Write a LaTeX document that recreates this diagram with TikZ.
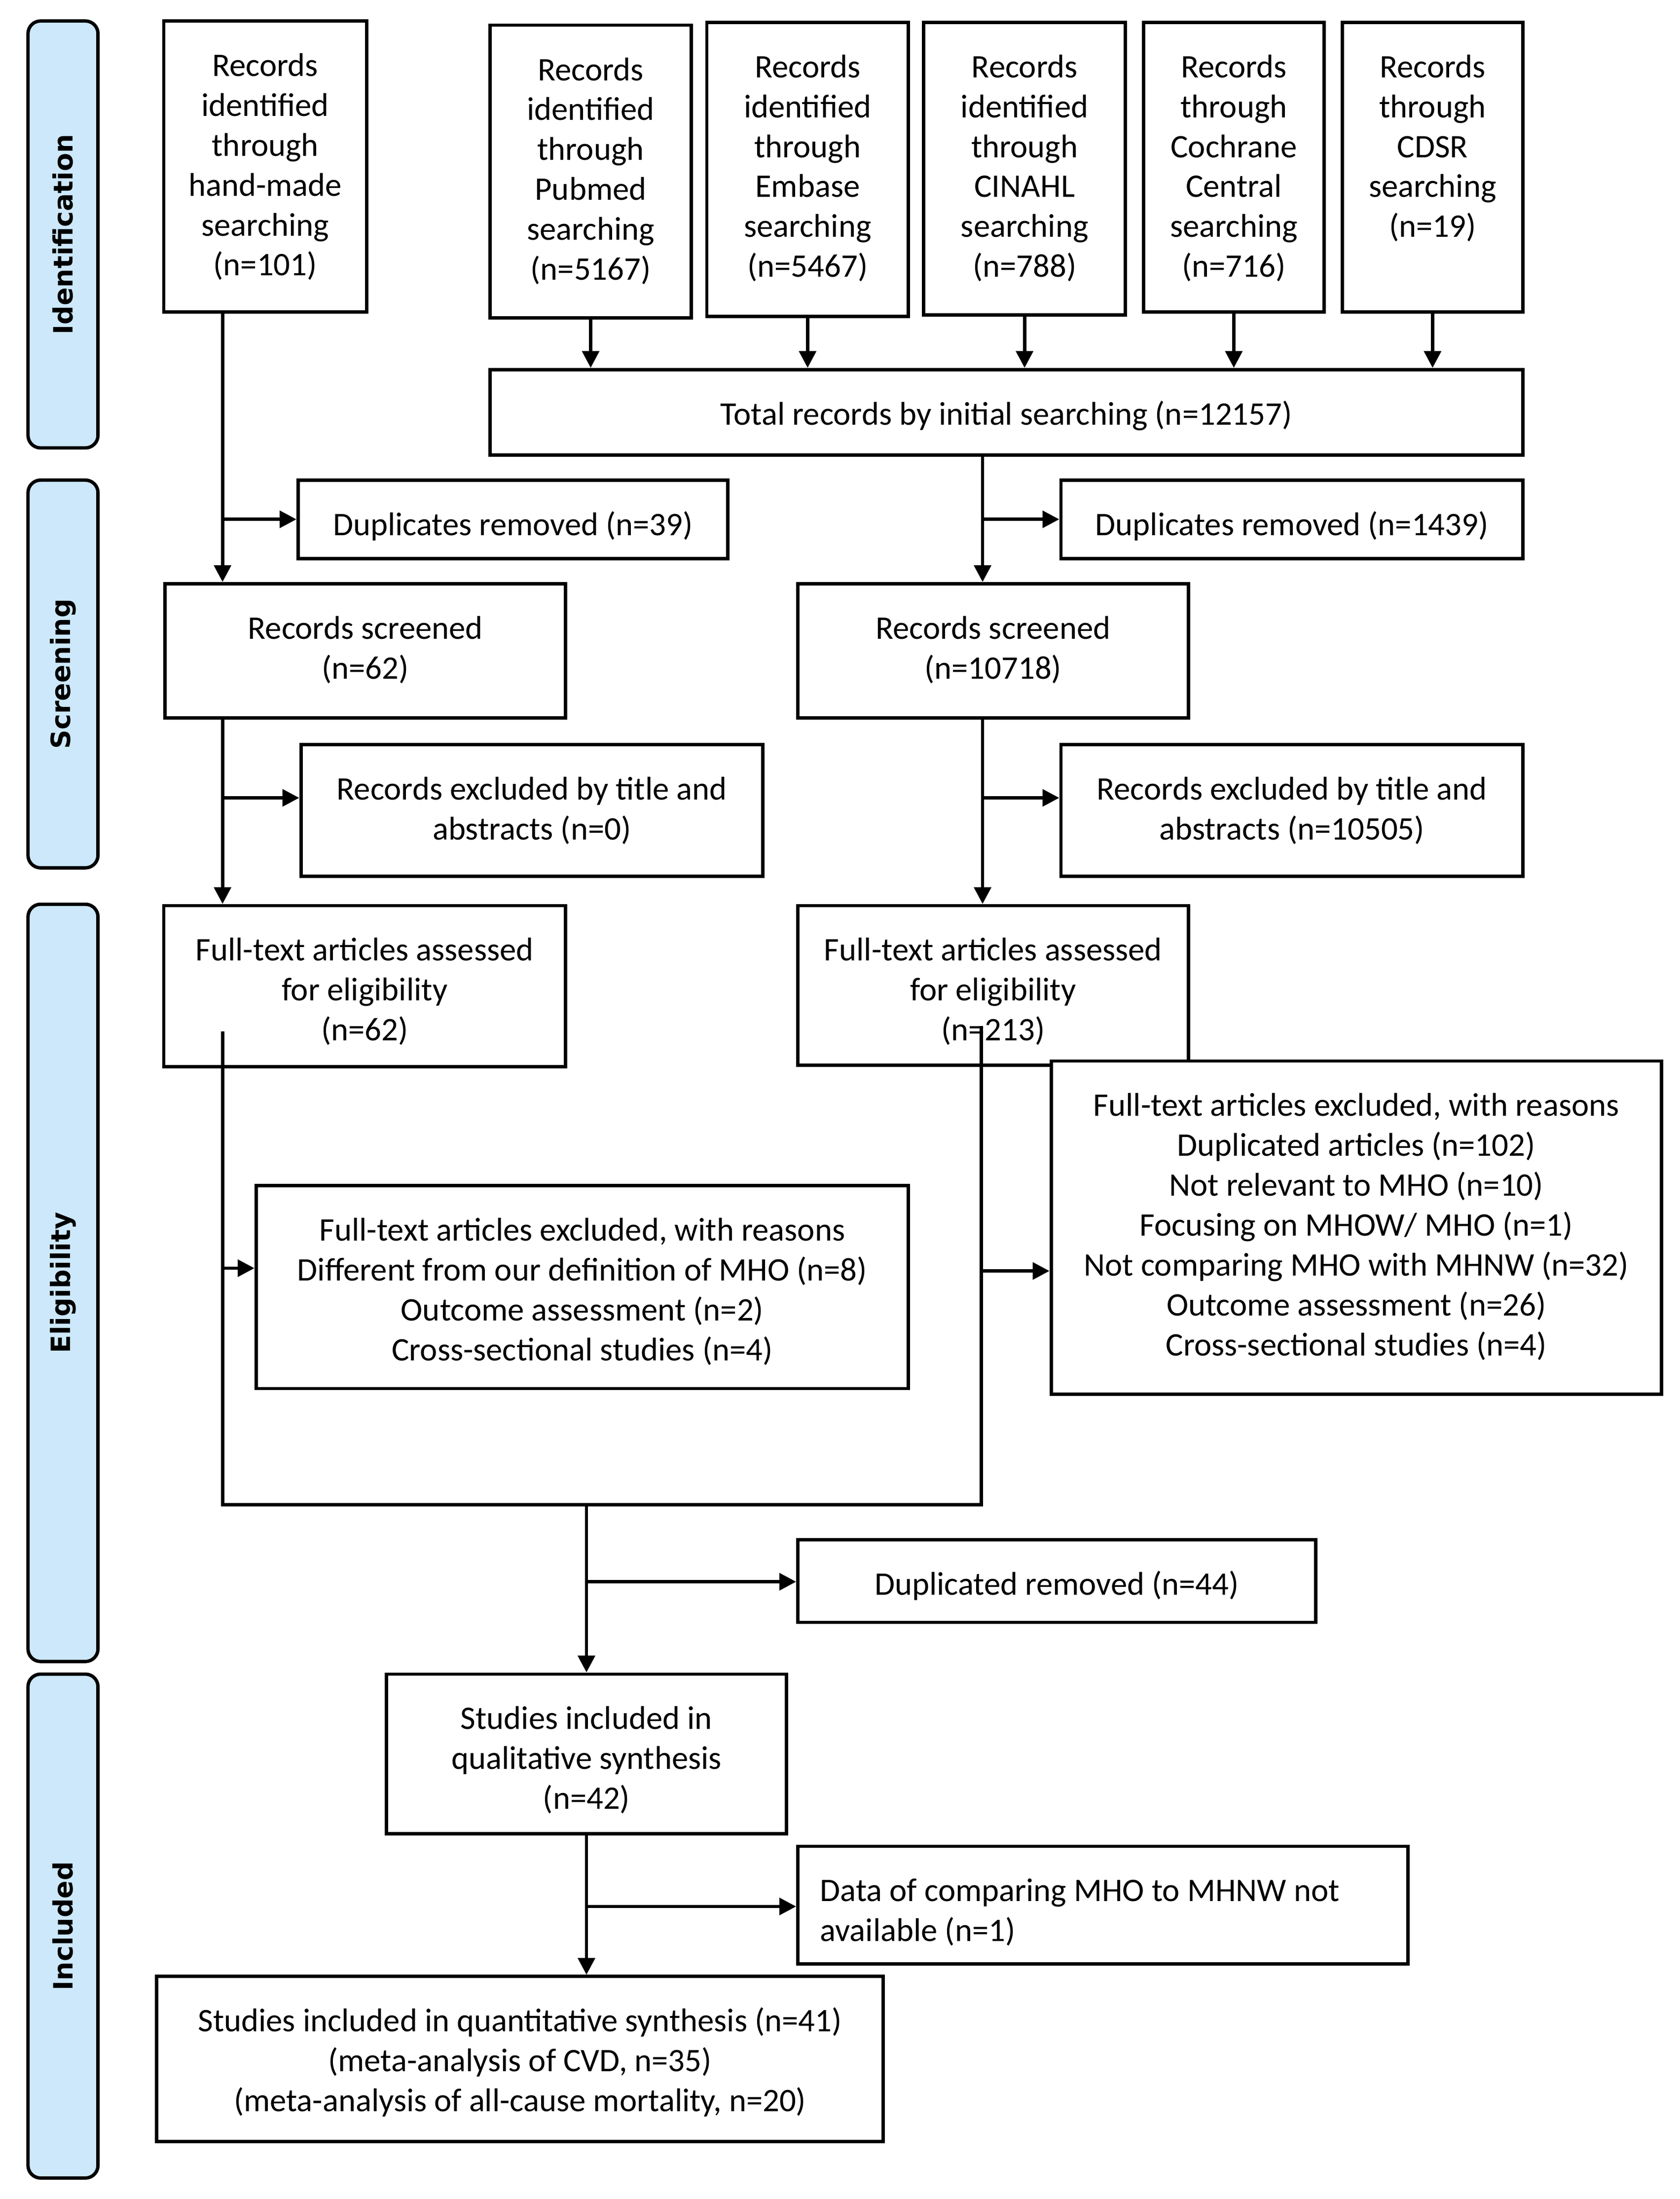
\documentclass[tikz,border=0pt]{standalone}
\usepackage{fontspec}
\setmainfont{Carlito}
\newfontfamily\sidefont{DejaVu Sans}
\usetikzlibrary{arrows.meta}
\definecolor{sideblue}{RGB}{204,232,250}
\begin{document}
\begin{tikzpicture}[x=1pt,y=-1pt,
  box/.style={draw=black, line width=2.4pt, fill=white, inner sep=0pt},
  txt/.style={inner sep=0pt, anchor=north, align=center,
    font=\fontsize{23.5pt}{28.5pt}\selectfont},
  side/.style={draw=black, line width=2.4pt, fill=sideblue, rounded corners=9pt,
    minimum width=50pt, inner sep=0pt},
  sidetxt/.style={font=\sidefont\bfseries\fontsize{19pt}{22pt}\selectfont, rotate=90, inner sep=0pt},
  conn/.style={line width=2.4pt},
  arr/.style={conn, -{Triangle[length=12pt,width=12pt]}}]
\useasboundingbox (0,0) rectangle (1200,1571);
\fill[white] (0,0) rectangle (1200,1571);

% side bars
\node[side, minimum height=305pt] (s1) at (45,167.5) {};
\node[side, minimum height=277pt] (s2) at (45,481.5) {};
\node[side, minimum height=541pt] (s3) at (45,916.5) {};
\node[side, minimum height=360pt] (s4) at (45,1376) {};
\node[sidetxt] (s1t) at (s1) {Identification};
\node[sidetxt] (s2t) at (s2) {Screening};
\node[sidetxt] (s3t) at (s3) {Eligibility};
\node[sidetxt] (s4t) at (s4) {Included};

% identification
\node[box, minimum width=145pt, minimum height=208pt] (hand) at (189.5,119) {};
\node[txt] (handt) at ([yshift=-20.5pt]hand.north) {\strut Records\\identified\\through\\hand-made\\searching\\(n=101)};
\node[box, minimum width=144pt, minimum height=209pt] (pub) at (422,122.5) {};
\node[txt] (pubt) at ([yshift=-20.5pt]pub.north) {\strut Records\\identified\\through\\Pubmed\\searching\\(n=5167)};
\node[box, minimum width=144pt, minimum height=210pt] (emb) at (577,121) {};
\node[txt] (embt) at ([yshift=-20.5pt]emb.north) {\strut Records\\identified\\through\\Embase\\searching\\(n=5467)};
\node[box, minimum width=144pt, minimum height=209pt] (cin) at (732,120.5) {};
\node[txt] (cint) at ([yshift=-20.5pt]cin.north) {\strut Records\\identified\\through\\CINAHL\\searching\\(n=788)};
\node[box, minimum width=129pt, minimum height=207pt] (coc) at (881.5,119.5) {};
\node[txt] (coct) at ([yshift=-20.5pt]coc.north) {\strut Records\\through\\Cochrane\\Central\\searching\\(n=716)};
\node[box, minimum width=129pt, minimum height=207pt] (cds) at (1023.5,119.5) {};
\node[txt] (cdst) at ([yshift=-20.5pt]cds.north) {\strut Records\\through\\CDSR\\searching\\(n=19)};
\node[box, minimum width=738pt, minimum height=61pt] (tot) at (719,294.5) {};
\node[txt] (tott) at ([yshift=-20.5pt]tot.north) {\strut Total records by initial searching (n=12157)};

% screening
\node[box, minimum width=307pt, minimum height=56pt] (dupL) at (366.5,371) {};
\node[txt] (dupLt) at ([yshift=-20.5pt]dupL.north) {\strut Duplicates removed (n=39)};
\node[box, minimum width=330pt, minimum height=56pt] (dupR) at (923,371) {};
\node[txt] (dupRt) at ([yshift=-20.5pt]dupR.north) {\strut Duplicates removed (n=1439)};
\node[box, minimum width=286pt, minimum height=96pt] (scrL) at (261,465) {};
\node[txt] (scrLt) at ([yshift=-20.5pt]scrL.north) {\strut Records screened\\(n=62)};
\node[box, minimum width=279pt, minimum height=96pt] (scrR) at (709.5,465) {};
\node[txt] (scrRt) at ([yshift=-20.5pt]scrR.north) {\strut Records screened\\(n=10718)};
\node[box, minimum width=330pt, minimum height=94pt] (exTL) at (380,579) {};
\node[txt] (exTLt) at ([yshift=-20.5pt]exTL.north) {\strut Records excluded by title and\\abstracts (n=0)};
\node[box, minimum width=330pt, minimum height=94pt] (exTR) at (923,579) {};
\node[txt] (exTRt) at ([yshift=-20.5pt]exTR.north) {\strut Records excluded by title and\\abstracts (n=10505)};

% eligibility
\node[box, minimum width=287pt, minimum height=115pt] (ftL) at (260.5,704.5) {};
\node[txt] (ftLt) at ([yshift=-20.5pt]ftL.north) {\strut Full-text articles assessed\\for eligibility\\(n=62)};
\node[box, minimum width=279pt, minimum height=114pt] (ftR) at (709.5,704) {};
\node[txt] (ftRt) at ([yshift=-20.5pt]ftR.north) {\strut Full-text articles assessed\\for eligibility\\(n=213)};
\node[box, minimum width=466pt, minimum height=145pt] (exFL) at (416,919.5) {};
\node[txt] (exFLt) at ([yshift=-20.5pt]exFL.north) {\strut Full-text articles excluded, with reasons\\Different from our definition of MHO (n=8)\\Outcome assessment (n=2)\\Cross-sectional studies (n=4)};
\node[box, minimum width=436pt, minimum height=238pt] (exFR) at (969,877) {};
\node[txt] (exFRt) at ([yshift=-20.5pt]exFR.north) {\strut Full-text articles excluded, with reasons\\Duplicated articles (n=102)\\Not relevant to MHO (n=10)\\Focusing on MHOW/ MHO (n=1)\\Not comparing MHO with MHNW (n=32)\\Outcome assessment (n=26)\\Cross-sectional studies (n=4)};
\node[box, minimum width=370pt, minimum height=59pt] (dup44) at (755,1129.5) {};
\node[txt] (dup44t) at ([yshift=-20.5pt]dup44.north) {\strut Duplicated removed (n=44)};

% included
\node[box, minimum width=286pt, minimum height=114pt] (qual) at (419,1253) {};
\node[txt] (qualt) at ([yshift=-20.5pt]qual.north) {\strut Studies included in\\qualitative synthesis\\(n=42)};
\node[box, minimum width=436pt, minimum height=84pt] (data) at (788,1361) {};
\node[txt, anchor=north west, align=left] (datat) at ([xshift=17pt,yshift=-20.5pt]data.north west) {\strut Data of comparing MHO to MHNW not\\available (n=1)};
\node[box, minimum width=519pt, minimum height=118pt] (quant) at (371.5,1471) {};
\node[txt] (quantt) at ([yshift=-20.5pt]quant.north) {\strut Studies included in quantitative synthesis (n=41)\\(meta-analysis of CVD, n=35)\\(meta-analysis of all-cause mortality, n=20)};

% helper coordinates
\coordinate (cL) at (159,0);
\coordinate (cR) at (702,0);
\coordinate (bL1) at (159,371);
\coordinate (bR1) at (702,371);
\coordinate (bL2) at (159,570);
\coordinate (bR2) at (702,570);
\coordinate (ftLin) at (159,737);
\coordinate (ftRin) at (701,733);
\coordinate (mL) at (159,1075);
\coordinate (mR) at (701,1075);
\coordinate (m) at (419,1075);
\coordinate (aL) at (159,906);
\coordinate (aR) at (701,908);
\coordinate (b44) at (419,1130);
\coordinate (bData) at (419,1362);

% connectors: databases to total
\foreach \n in {pub,emb,cin,coc,cds}
  \draw[arr] (\n.south) -- (\n.south |- tot.north);

% left column
\draw[arr] (hand.south -| cL) -- (scrL.north -| cL);
\draw[arr] (bL1) -- (bL1 -| dupL.west);
\draw[arr] (scrL.south -| cL) -- (ftL.north -| cL);
\draw[arr] (bL2) -- (bL2 -| exTL.west);

% right column
\draw[arr] (tot.south -| cR) -- (scrR.north -| cR);
\draw[arr] (bR1) -- (bR1 -| dupR.west);
\draw[arr] (scrR.south -| cR) -- (ftR.north -| cR);
\draw[arr] (bR2) -- (bR2 -| exTR.west);

% eligibility merge
\draw[conn] (ftLin) -- (mL) -- (mR) -- (ftRin);
\draw[arr] (aL) -- (aL -| exFL.west);
\draw[arr] (aR) -- (aR -| exFR.west);
\draw[arr] (m) -- (qual.north);
\draw[arr] (b44) -- (b44 -| dup44.west);
\draw[arr] (qual.south) -- (quant.north -| qual.south);
\draw[arr] (bData) -- (bData -| data.west);
\end{tikzpicture}
\end{document}
